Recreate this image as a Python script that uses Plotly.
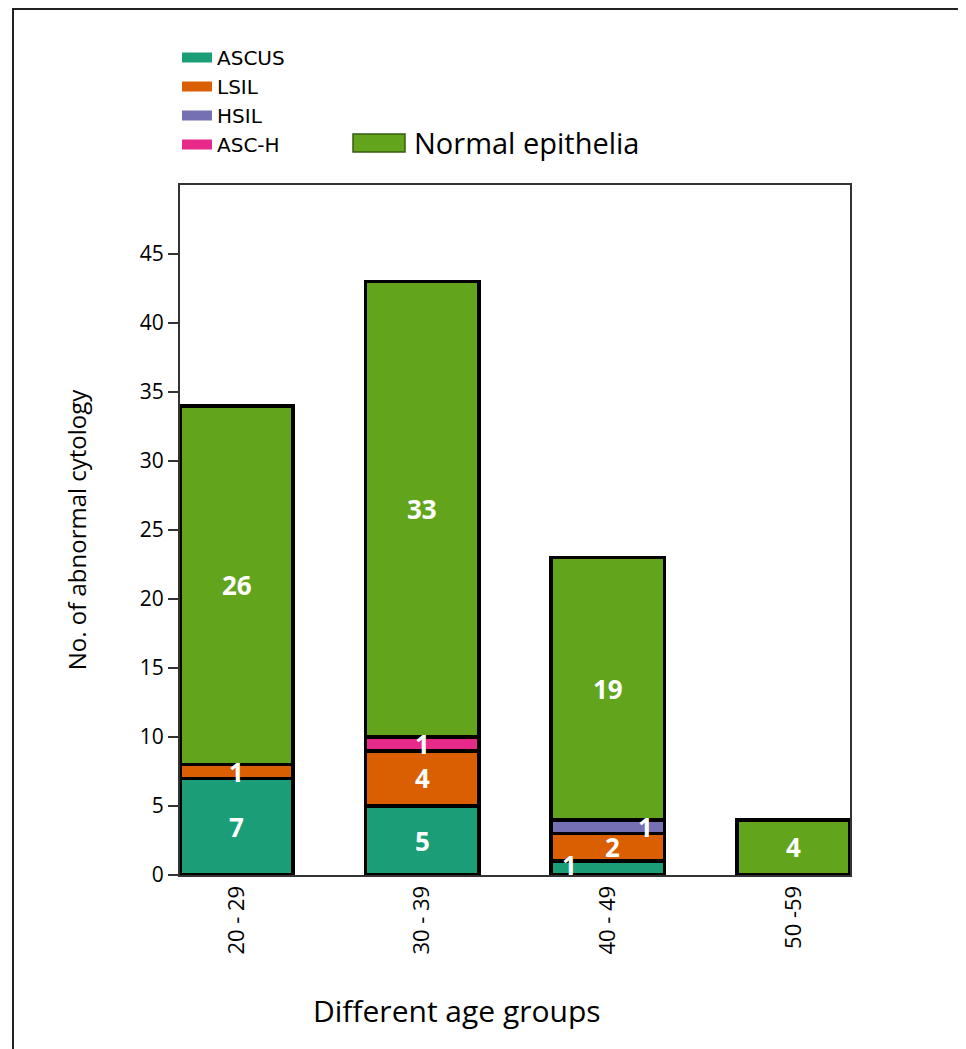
import plotly.graph_objects as go

# ---------------- data ----------------
age_groups = ["20 - 29", "30 - 39", "40 - 49", "50 -59"]
ascus = [7, 5, 1, None]
lsil = [1, 4, 2, None]
hsil = [None, None, 1, None]
asc_h = [None, 1, None, None]
normal = [26, 33, 19, 4]

series_names = ["ASCUS", "LSIL", "HSIL", "ASC-H", "Normal epithelia"]
series_values = [ascus, lsil, hsil, asc_h, normal]
series_colors = ["#1b9e77", "#d95f02", "#7570b3", "#e7298a", "#62a51c"]

y_tick_values = [0, 5, 10, 15, 20, 25, 30, 35, 40, 45]

# label horizontal nudges (styling only) for crowded thin segments
label_xshift = {("ASCUS", 2): -38, ("LSIL", 2): 5, ("HSIL", 2): 38}
label_yshift = {("ASCUS", 2): 3}

# ---------------- figure ----------------
# page body has an 8px margin; work in screen coords and offset
OFF = 8
W, H = 966 - OFF, 1049 - OFF
L, R, T, B = 180 - OFF, 116, 185 - OFF, 174
pw, ph = W - L - R, H - T - B

def px(x):
    return (x - OFF - L) / pw

def py(y):
    return (H - B - (y - OFF)) / ph

fig = go.Figure()
bar_width = 0.61

for name, vals, col in zip(series_names, series_values, series_colors):
    fig.add_trace(go.Bar(
        x=age_groups, y=vals, name=name, width=bar_width,
        marker=dict(color=col, line=dict(color="black", width=3.5)),
        showlegend=False, hoverinfo="x+y+name",
    ))

# legend entries (line swatches) for the four abnormal categories
for name, col in zip(series_names[:4], series_colors[:4]):
    fig.add_trace(go.Scatter(
        x=[None], y=[None], mode="lines", name=name,
        line=dict(color=col, width=10), showlegend=True,
    ))

# value labels
annotations = []
base = [0] * len(age_groups)
for name, vals in zip(series_names, series_values):
    for i, v in enumerate(vals):
        if v:
            annotations.append(dict(
                x=age_groups[i], y=base[i] + v / 2, xref="x", yref="y",
                text=str(v), showarrow=False,
                xshift=label_xshift.get((name, i), 0),
                yshift=label_yshift.get((name, i), 0),
                font=dict(family="Open Sans", size=26, color="white", weight="bold"),
            ))
            base[i] += v

# x axis title (offset left as in reference)
annotations.append(dict(
    x=px(457), y=py(1011), xref="paper", yref="paper",
    text="Different age groups", showarrow=False,
    font=dict(family="Open Sans", size=30, color="black"),
    xanchor="center", yanchor="middle",
))
# Normal epithelia legend entry
annotations.append(dict(
    x=px(412), y=py(143), xref="paper", yref="paper",
    text="Normal epithelia", showarrow=False,
    font=dict(family="Open Sans", size=29, color="black"),
    xanchor="left", yanchor="middle",
))

shapes = [
    # outer frame
    dict(type="rect", xref="paper", yref="paper",
         x0=px(13), x1=px(964), y0=py(1070), y1=py(9),
         line=dict(color="#222", width=2), fillcolor="rgba(0,0,0,0)", layer="below"),
    # Normal epithelia swatch
    dict(type="rect", xref="paper", yref="paper",
         x0=px(353), x1=px(405), y0=py(152), y1=py(134),
         line=dict(color="#3a5a10", width=1.5), fillcolor=series_colors[4]),
]

fig.update_layout(
    width=W, height=H,
    margin=dict(l=L, r=R, t=T, b=B, autoexpand=False),
    barmode="stack",
    paper_bgcolor="white", plot_bgcolor="white",
    font=dict(family="Open Sans", color="black"),
    annotations=annotations, shapes=shapes,
    legend=dict(
        x=px(177), y=py(38), xanchor="left", yanchor="top",
        traceorder="normal",
        font=dict(size=20, family="DejaVu Sans", color="black"),
        bgcolor="rgba(0,0,0,0)", tracegroupgap=0, itemclick=False,
    ),
    xaxis=dict(
        range=[-bar_width / 2, 3 + bar_width / 2],
        showline=True, mirror=True, linecolor="#333", linewidth=2,
        ticks="", tickangle=-90, tickfont=dict(size=22),
        showgrid=False, zeroline=False,
    ),
    yaxis=dict(
        range=[0, 50], tickvals=y_tick_values,
        showline=True, mirror=True, linecolor="#333", linewidth=2,
        ticks="outside", ticklen=10, tickwidth=2, tickcolor="#333",
        tickfont=dict(size=21), showgrid=False, zeroline=False,
        title=dict(text="No. of abnormal cytology", font=dict(size=24), standoff=46),
    ),
)

fig.write_html("out.html")
